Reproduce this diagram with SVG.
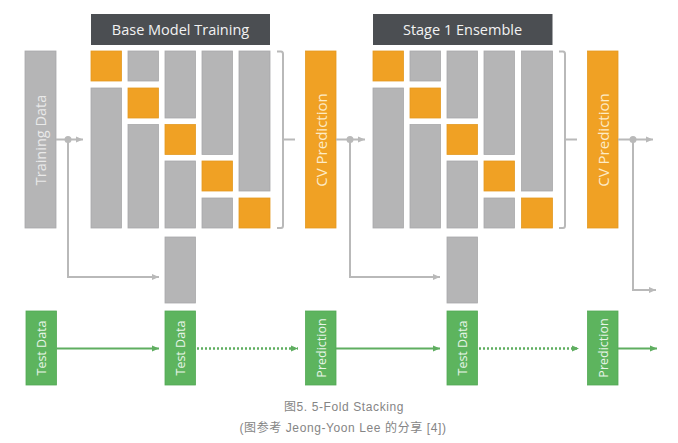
<svg xmlns="http://www.w3.org/2000/svg" width="678" height="443" viewBox="0 0 678 443">
<style>
.g{fill:#b5b5b6;stroke:#a9a9aa;stroke-width:0.8}
.o{fill:#f0a124;stroke:#e39a22;stroke-width:0.8}
.gr{fill:#5db45e;stroke:#54a855;stroke-width:0.8}
.hd{fill:#4b4e52}
.ht{font-family:"Open Sans","Noto Sans",sans-serif;font-size:14.5px;fill:#f2f2f2;text-anchor:middle}
.vt{font-family:"Open Sans","Noto Sans",sans-serif;text-anchor:middle;dominant-baseline:central}
.cg{fill:none;stroke:#b9b9b9;stroke-width:2}
.cgr{fill:none;stroke:#5fae60;stroke-width:2}
.dot{stroke-dasharray:2 2;stroke-width:2.6}
.cap{font-family:"Liberation Sans","Noto Sans CJK SC",sans-serif;font-size:12px;letter-spacing:0.6px;fill:#858585;text-anchor:middle}
</style>
<defs>
<marker id="ag" markerUnits="userSpaceOnUse" markerWidth="8" markerHeight="8" viewBox="0 0 8 8" refX="7.5" refY="4" orient="auto"><path d="M0,0.8 L7.5,4 L0,7.2 z" fill="#b9b9b9"/></marker>
<marker id="agr" markerUnits="userSpaceOnUse" markerWidth="8" markerHeight="8" viewBox="0 0 8 8" refX="7.5" refY="4" orient="auto"><path d="M0,0.8 L7.5,4 L0,7.2 z" fill="#5fae60"/></marker>
</defs>

<g id="training-data"><rect class="g" x="25" y="51" width="31" height="177"/><text class="vt" font-size="14.5" fill="#e9e9e9" transform="rotate(-90 40.5 140)" x="40.5" y="140">Training Data</text></g>

<g id="base-model-training">
<rect class="hd" x="91" y="14" width="179" height="31"/>
<text class="ht" x="180.5" y="35">Base Model Training</text>
<rect class="o" x="91" y="51" width="30.5" height="30"/><rect class="g" x="91" y="88" width="30.5" height="140"/>
<rect class="g" x="128" y="51" width="30.5" height="30"/><rect class="o" x="128" y="88" width="30.5" height="30"/><rect class="g" x="128" y="124.5" width="30.5" height="103.5"/>
<rect class="g" x="165" y="51" width="30.5" height="67"/><rect class="o" x="165" y="124.5" width="30.5" height="30"/><rect class="g" x="165" y="161" width="30.5" height="67"/>
<rect class="g" x="202" y="51" width="30.5" height="103.5"/><rect class="o" x="202" y="161" width="30.5" height="30"/><rect class="g" x="202" y="198" width="30.5" height="30"/>
<rect class="g" x="239" y="51" width="31" height="140"/><rect class="o" x="239" y="198" width="31" height="30"/>
</g>
<g id="base-test-block"><rect class="g" x="165" y="237" width="30.5" height="66"/></g>

<g id="cv-prediction-1"><rect class="o" x="305.5" y="51" width="30.5" height="177"/><text class="vt" font-size="15" fill="#fdebc6" transform="rotate(-90 321 140)" x="321" y="140">CV Prediction</text></g>

<g id="stage1-ensemble">
<rect class="hd" x="373" y="14" width="179.5" height="31"/>
<text class="ht" x="462.5" y="35">Stage 1 Ensemble</text>
<rect class="o" x="373" y="51" width="30.5" height="30"/><rect class="g" x="373" y="88" width="30.5" height="140"/>
<rect class="g" x="410" y="51" width="30.5" height="30"/><rect class="o" x="410" y="88" width="30.5" height="30"/><rect class="g" x="410" y="124.5" width="30.5" height="103.5"/>
<rect class="g" x="447" y="51" width="30.5" height="67"/><rect class="o" x="447" y="124.5" width="30.5" height="30"/><rect class="g" x="447" y="161" width="30.5" height="67"/>
<rect class="g" x="484" y="51" width="30.5" height="103.5"/><rect class="o" x="484" y="161" width="30.5" height="30"/><rect class="g" x="484" y="198" width="30.5" height="30"/>
<rect class="g" x="521.5" y="51" width="31" height="140"/><rect class="o" x="521.5" y="198" width="31" height="30"/>
</g>
<g id="stage1-test-block"><rect class="g" x="447" y="237" width="30.5" height="66"/></g>

<g id="cv-prediction-2"><rect class="o" x="587.5" y="51" width="30.5" height="177"/><text class="vt" font-size="15" fill="#fdebc6" transform="rotate(-90 603 140)" x="603" y="140">CV Prediction</text></g>

<g id="test-data-1"><rect class="gr" x="26" y="311" width="30.5" height="74"/><text class="vt" font-size="12.5" fill="#e8f5e8" transform="rotate(-90 41.5 348)" x="41.5" y="348">Test Data</text></g>
<g id="test-data-2"><rect class="gr" x="165" y="311" width="30.5" height="74"/><text class="vt" font-size="12.5" fill="#e8f5e8" transform="rotate(-90 180.5 348)" x="180.5" y="348">Test Data</text></g>
<g id="prediction-1"><rect class="gr" x="305.5" y="311" width="30.5" height="74"/><text class="vt" font-size="12.5" fill="#e8f5e8" transform="rotate(-90 321 348)" x="321" y="348">Prediction</text></g>
<g id="test-data-3"><rect class="gr" x="447" y="311" width="30.5" height="74"/><text class="vt" font-size="12.5" fill="#e8f5e8" transform="rotate(-90 462.5 348)" x="462.5" y="348">Test Data</text></g>
<g id="prediction-2"><rect class="gr" x="587.5" y="311" width="30.5" height="74"/><text class="vt" font-size="12.5" fill="#e8f5e8" transform="rotate(-90 603 348)" x="603" y="348">Prediction</text></g>

<g id="connectors">
<path class="cg" d="M56,139.5 H83" marker-end="url(#ag)"/>
<circle cx="68" cy="139.5" r="3.5" fill="#b9b9b9"/>
<path class="cg" d="M68,139.5 V277 H159" marker-end="url(#ag)"/>
<path class="cg" d="M277,51.5 H281 Q283,51.5 283,54 V225.5 Q283,228 281,228 H277 M283,139.5 H295"/>
<path class="cg" d="M336,139.5 H365" marker-end="url(#ag)"/>
<circle cx="350" cy="139.5" r="3.5" fill="#b9b9b9"/>
<path class="cg" d="M350,139.5 V277 H440" marker-end="url(#ag)"/>
<path class="cg" d="M559,51.5 H563 Q565,51.5 565,54 V225.5 Q565,228 563,228 H559 M565,139.5 H577"/>
<path class="cg" d="M618,139.5 H653" marker-end="url(#ag)"/>
<circle cx="633" cy="139.5" r="3.5" fill="#b9b9b9"/>
<path class="cg" d="M633,139.5 V290 H656" marker-end="url(#ag)"/>
<path class="cgr" d="M56.5,348.5 H159" marker-end="url(#agr)"/>
<path class="cgr dot" d="M197,348.5 H298" marker-end="url(#agr)"/>
<path class="cgr" d="M336,348.5 H440" marker-end="url(#agr)"/>
<path class="cgr dot" d="M479,348.5 H579" marker-end="url(#agr)"/>
<path class="cgr" d="M618,348.5 H657" marker-end="url(#agr)"/>
</g>

<text class="cap" x="344" y="411">图5. 5-Fold Stacking</text>
<text class="cap" x="343" y="432">(图参考 Jeong-Yoon Lee 的分享 [4])</text>
</svg>
